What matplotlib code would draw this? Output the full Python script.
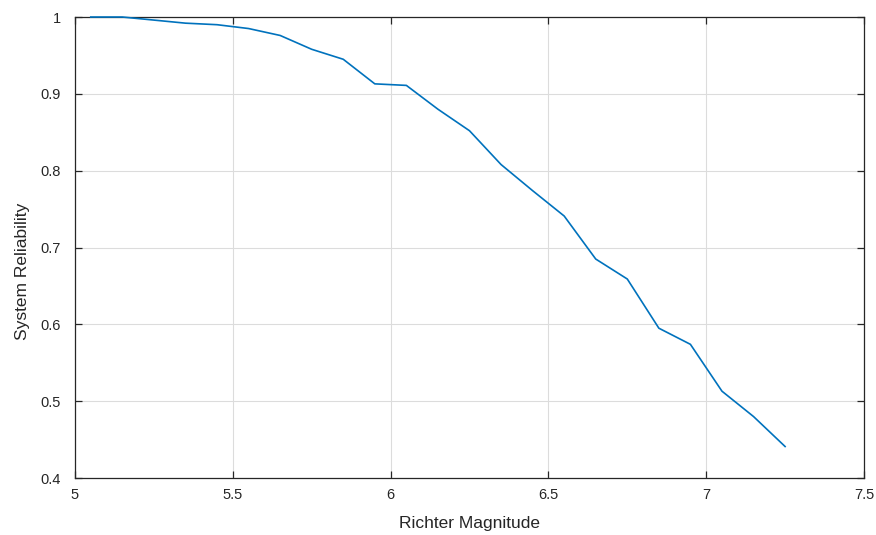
import numpy as np
import matplotlib.pyplot as plt
from matplotlib.ticker import FuncFormatter

# magnitude vs reliability
magnitude = [5.05, 5.15, 5.25, 5.35, 5.45, 5.55, 5.65, 5.75, 5.85, 5.95, 6.05, 6.15,
             6.25, 6.35, 6.45, 6.55, 6.65, 6.75, 6.85, 6.95, 7.05, 7.15, 7.25]
reliability = [1.0, 1.0, 0.996, 0.992, 0.990, 0.985, 0.976, 0.958, 0.945, 0.913, 0.911, 0.880,
               0.852, 0.808, 0.774, 0.741, 0.685, 0.659, 0.595, 0.574, 0.513, 0.480, 0.441]

xticks = [5, 5.5, 6, 6.5, 7, 7.5]
yticks = [0.4, 0.5, 0.6, 0.7, 0.8, 0.9, 1.0]

plt.rcParams['font.family'] = ['Liberation Sans', 'DejaVu Sans']

fig = plt.figure(figsize=(8.76, 5.35), dpi=100)
ax = fig.add_axes([0.0856, 0.1065, 0.9007, 0.8617])

ax.plot(magnitude, reliability, color='#0072BD', lw=1.2, clip_on=False, zorder=5)

ax.set_xlim(5, 7.5)
ax.set_ylim(0.4, 1.0)
ax.set_xticks(xticks)
ax.set_yticks(yticks)

fmt = FuncFormatter(lambda v, p: ('%g' % round(v, 3)))
ax.xaxis.set_major_formatter(fmt)
ax.yaxis.set_major_formatter(fmt)

ax.grid(True, color='#dcdcdc', lw=0.8)
ax.set_axisbelow(True)
for s in ax.spines.values():
    s.set_color('#262626')
    s.set_linewidth(0.9)
ax.tick_params(direction='in', top=True, right=True, length=5, width=0.9,
               colors='#262626', labelsize=10.5)
ax.tick_params(axis='x', pad=7)
ax.tick_params(axis='y', pad=10)

ax.set_xlabel('Richter Magnitude', fontsize=12.5, color='#262626', labelpad=10)
ax.set_ylabel('System Reliability', fontsize=12.5, color='#262626')
# matlab puts the y label a bit below centre
ax.yaxis.set_label_coords(-0.066, 0.449)
ax.yaxis.label.set_va('center')

fig.savefig('out.png', dpi=100)
